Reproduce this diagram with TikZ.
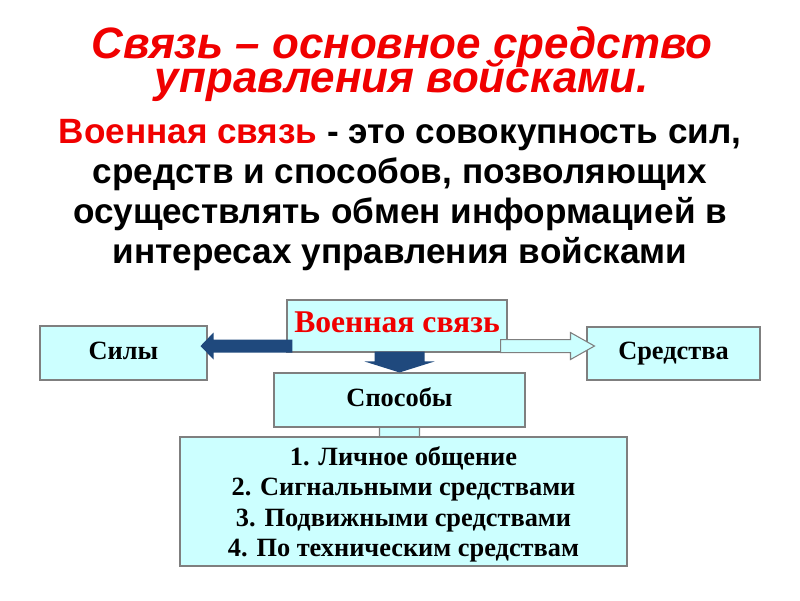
\documentclass[tikz,border=0pt]{standalone}
\usepackage{fontspec}
\setmainfont{Liberation Serif}
\newfontfamily\arialf{Liberation Sans}
\usetikzlibrary{calc,positioning,backgrounds}

\definecolor{boxfill}{HTML}{CCFFFF}
\definecolor{boxline}{HTML}{7F7F7F}
\definecolor{navyarr}{HTML}{1F497D}
\definecolor{titlered}{HTML}{F00000}

\begin{document}
\begin{tikzpicture}

% ----------------------------
% Styles
% ----------------------------
\tikzset{
	titletext/.style={font={\arialf\bfseries\itshape\fontsize{25}{19}\selectfont\lineskiplimit=-30pt},
		text=titlered,align=center},
	deftext/.style={font=\arialf\bfseries\fontsize{20}{22.7}\selectfont,align=center},
	box/.style={draw=boxline,fill=boxfill,line width=0.6pt,inner sep=0pt,
		font=\bfseries\fontsize{15}{17.3}\selectfont,align=center},
	onebox/.style={box,text height=1.6ex,text depth=0pt},
	darkarr/.style={fill=navyarr},
	lightarr/.style={fill=boxfill,draw=boxline,line width=0.6pt}
}

\useasboundingbox (0,0) rectangle (16,12);

% ============================================================
% Heading and definition
% ============================================================
\node[titletext] (title) at (8.04,10.72) {Связь – основное средство\\управления войсками.};
\node[deftext] (defn) at (8.0,8.1) {\textcolor{titlered}{Военная связь} - это совокупность сил,\\
	средств и способов, позволяющих\\осуществлять обмен информацией в\\интересах управления войсками};

% ============================================================
% Boxes
% ============================================================
\node[onebox,minimum width=4.4cm,minimum height=1.04cm,text=titlered,font=\bfseries\fontsize{18}{20}\selectfont]
	(svyaz) at (7.94,5.48) {Военная связь};
\node[onebox,minimum width=3.34cm,minimum height=1.08cm] (sily) at (2.47,4.94) {Силы};
\node[onebox,minimum width=3.46cm,minimum height=1.06cm] (sredstva) at (13.47,4.93) {Средства};
\node[onebox,minimum width=5.02cm,minimum height=1.08cm] (sposoby) at (7.99,4.0) {Способы};
\node[box,text depth=0pt,minimum width=8.94cm,minimum height=2.58cm] (spisok) at (8.07,1.97)
	{1. Личное общение\\2. Сигнальными средствами\\3. Подвижными средствами\\4. По техническим средствам};

% ============================================================
% Block arrows
% ============================================================
% to the left: Военная связь -> Силы
\coordinate (lS) at ($(svyaz.south west)+(0.12,0)$);
\fill[darkarr] (lS) -- ++(0,0.26) -- ($(sily.east |- lS)+(0.12,0.26)$) -- ++(0,0.14)
	-- ($(sily.east |- lS)+(-0.14,0.13)$) -- ($(sily.east |- lS)+(0.12,-0.14)$)
	-- ++(0,0.14) -- cycle;

% to the right: Военная связь -> Средства
\coordinate (rS) at ($(svyaz.south east)+(-0.14,0)$);
\filldraw[lightarr] (rS) -- ++(0,0.26) -- ($(sredstva.west |- rS)+(-0.32,0.26)$) -- ++(0,0.14)
	-- ($(sredstva.west |- rS)+(0.16,0.13)$) -- ($(sredstva.west |- rS)+(-0.32,-0.14)$)
	-- ++(0,0.14) -- cycle;

% down: Военная связь -> Способы
\coordinate (dT) at (sposoby.north);
\fill[darkarr] ($(svyaz.south -| dT)+(-0.5,0.02)$) -- ++(1.0,0) -- ($(dT)+(0.5,0.22)$)
	-- ++(0.2,0) -- (dT) -- ($(dT)+(-0.7,0.22)$) -- ++(0.2,0) -- cycle;

% down: Способы -> list (head hidden behind the list box)
\begin{scope}[on background layer]
	\coordinate (sT) at ($(sposoby.south)+(0,-0.4)$);
	\filldraw[lightarr] ($(sposoby.south)+(-0.4,0.02)$) -- ++(0.8,0) -- ($(sT)+(0.4,0.2)$)
		-- ++(0.45,0) -- (sT) -- ($(sT)+(-0.85,0.2)$) -- ++(0.45,0) -- cycle;
\end{scope}

\end{tikzpicture}
\end{document}
